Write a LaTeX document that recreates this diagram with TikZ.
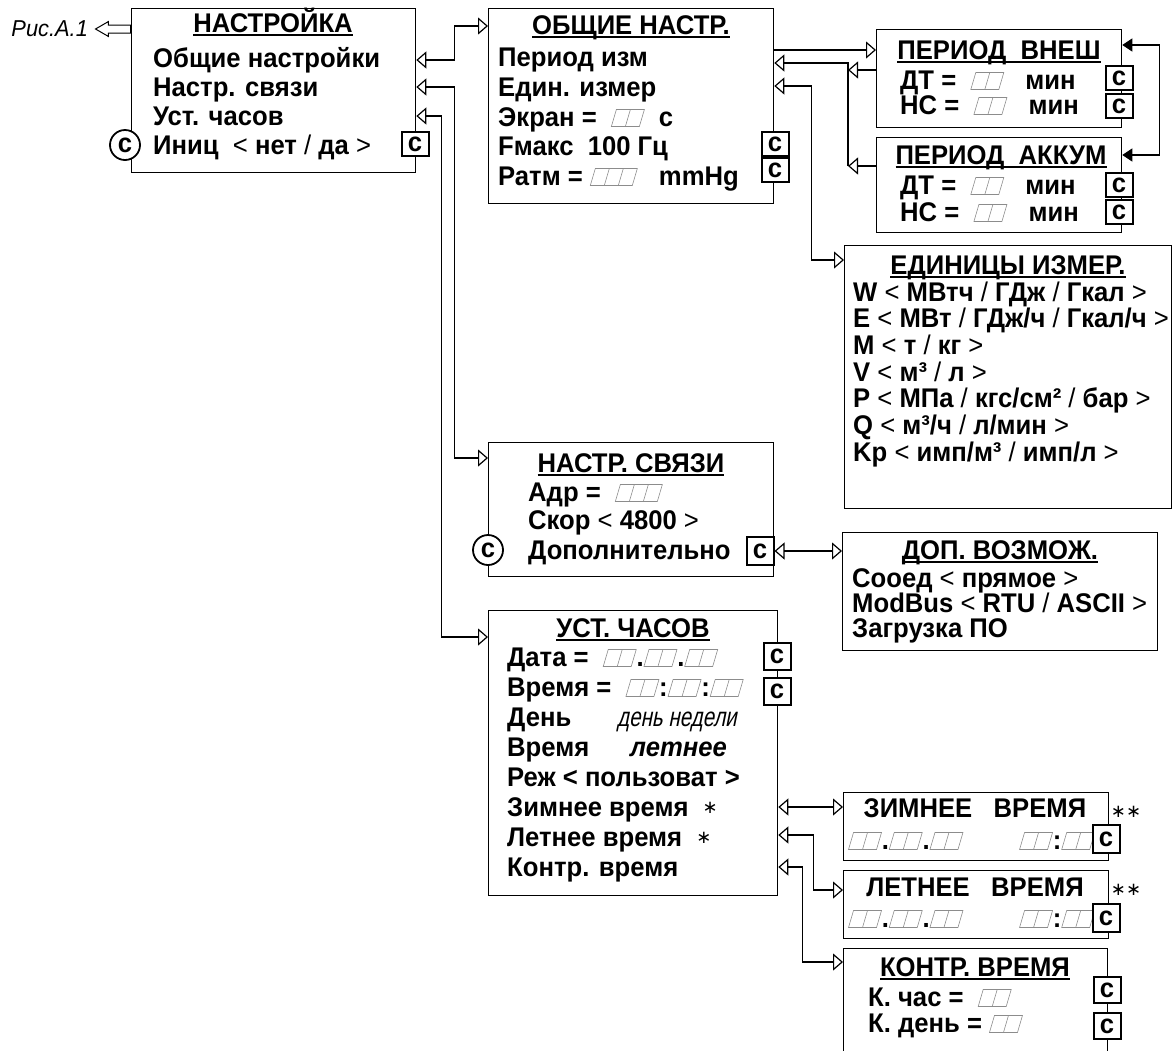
\documentclass[tikz,border=0pt]{standalone}
\usepackage{fontspec}
\setmainfont{Liberation Sans}[FakeStretch=0.95]
\newfontfamily\symfont{DejaVu Sans}
\newfontfamily\narrowfont{Liberation Sans}[FakeStretch=0.76,FakeSlant=0.2]
\usetikzlibrary{arrows.meta,positioning,shapes.arrows}
\newcommand{\menufont}{\fontsize{27}{32}\selectfont}
\newcommand{\rg}[1]{{\mdseries#1}}
\newcommand{\zv}{\raisebox{3pt}{\symfont\mdseries\fontsize{18}{20}\selectfont ∗}}
\newcommand{\ttl}[1]{\leavevmode\setbox0\hbox{#1}\rlap{\vrule width\wd0 height -1pt depth 3pt}\box0}
\newcommand{\dd}{\tikz[baseline=0pt,x=1pt,y=1pt]\draw[cellline] (0,0) -- (28,0) -- (33,17) -- (5,17) -- cycle (14,0) -- (19,17);}
\newcommand{\ddd}{\tikz[baseline=0pt,x=1pt,y=1pt]\draw[cellline] (0,0) -- (42,0) -- (47,17) -- (5,17) -- cycle (14,0) -- (19,17) (28,0) -- (33,17);}

\begin{document}
\begin{tikzpicture}[
  x=1pt,y=-1pt,
  menu/.style={draw,line width=1.3pt,anchor=north west,inner sep=0pt},
  head/.style={font=\menufont\bfseries,inner sep=0pt,text height=19pt,text depth=0pt},
  item/.style={font=\menufont\bfseries,anchor=west,inner sep=0pt,text height=19pt,text depth=0pt},
  ckey/.style={draw,line width=2pt,fill=white,minimum width=27pt,minimum height=24pt,inner sep=0pt,font=\menufont\bfseries},
  cround/.style={draw,circle,line width=1.8pt,fill=white,minimum size=30pt,inner sep=0pt,font=\menufont\bfseries},
  cellline/.style={line width=.6pt,draw=black!45},
  backarrow/.style={draw,single arrow,shape border rotate=180,line width=1pt,minimum height=35pt,minimum width=14pt,inner sep=3.5pt,single arrow head extend=3.5pt,single arrow tip angle=60},
  arrow/.style={-{Triangle[open,length=10pt,width=17pt]},line width=1.2pt},
  twoway/.style={{Triangle[open,length=10pt,width=17pt]}-{Triangle[open,length=10pt,width=17pt]},line width=1.2pt},
  link/.style={{Triangle[length=10pt,width=13pt]}-{Triangle[length=10pt,width=13pt]},line width=1.2pt}
]
\useasboundingbox (0,0) rectangle (1174,1050);

\node[menu,minimum width=284pt,minimum height=164pt] (nastr) at (131,8) {};
\node[menu,minimum width=285pt,minimum height=195pt] (obsch) at (488,8) {};
\node[menu,minimum width=245pt,minimum height=98pt] (vnesh) at (876,29) {};
\node[menu,minimum width=245pt,minimum height=95pt] (akkum) at (876,137) {};
\node[menu,minimum width=327pt,minimum height=263pt] (edin) at (844,245) {};
\node[menu,minimum width=285pt,minimum height=134pt] (svyaz) at (488,442) {};
\node[menu,minimum width=315pt,minimum height=118pt] (dopvz) at (842,532) {};
\node[menu,minimum width=289pt,minimum height=285pt] (chasy) at (488,610) {};
\node[menu,minimum width=265pt,minimum height=68pt] (zima) at (843,792) {};
\node[menu,minimum width=265pt,minimum height=68pt] (leto) at (843,870) {};
\node[menu,minimum width=264pt,minimum height=130pt] (kontr) at (843,948) {};

\node[backarrow,anchor=tail] (back) at (nastr.west |- 0,29) {};
\node[font=\fontsize{23}{26}\selectfont\itshape,left=3pt of back.tip] (ris) {Рис.А.1};

\node[head] (nastrT) at (273,23) {\ttl{НАСТРОЙКА}};
\node[item] (nastr1) at (153,58) {Общие настройки};
\node[item] (nastr2) at (153,87) {Настр. связи};
\node[item] (nastr3) at (153,116) {Уст. часов};
\node[item] (nastr4) at (153,145) {Иниц~~\rg{<} нет \rg{/} да \rg{>}};

\node[head] (obschT) at (631,25) {\ttl{ОБЩИЕ НАСТР.}};
\node[item] (obsch1) at (498,57) {Период изм};
\node[item] (obsch2) at (498,87) {Един. измер};
\node[item] (obsch3) at (498,117) {Экран =~~\dd~~с};
\node[item] (obsch4) at (498,146) {Fмакс~~100 Гц};
\node[item] (obsch5) at (498,176) {Ратм = \ddd~~~mmHg};

\node[head] (vneshT) at (999,50) {\ttl{ПЕРИОД~~ВНЕШ}};
\node[item] (vnesh1) at (900,80) {ДТ =~~\dd~~~мин};
\node[item] (vnesh2) at (900,105) {НС =~~\dd~~~мин};

\node[head] (akkumT) at (1001,155) {\ttl{ПЕРИОД~~АККУМ}};
\node[item] (akkum1) at (900,185) {ДТ =~~\dd~~~мин};
\node[item] (akkum2) at (900,212) {НС =~~\dd~~~мин};

\node[head] (edinT) at (1008,265) {\ttl{ЕДИНИЦЫ ИЗМЕР.}};
\node[item] (edin1) at (853,292) {W \rg{<} МВтч \rg{/} ГДж \rg{/} Гкал \rg{>}};
\node[item] (edin2) at (853,318) {E \rg{<} МВт \rg{/} ГДж/ч \rg{/} Гкал/ч \rg{>}};
\node[item] (edin3) at (853,345) {M \rg{<} т \rg{/} кг \rg{>}};
\node[item] (edin4) at (853,372) {V \rg{<} м³ \rg{/} л \rg{>}};
\node[item] (edin5) at (853,398) {P \rg{<} МПа \rg{/} кгс/см² \rg{/} бар \rg{>}};
\node[item] (edin6) at (853,425) {Q \rg{<} м³/ч \rg{/} л/мин \rg{>}};
\node[item] (edin7) at (853,452) {Kp \rg{<} имп/м³ \rg{/} имп/л \rg{>}};

\node[head] (svyazT) at (631,463) {\ttl{НАСТР. СВЯЗИ}};
\node[item] (svyaz1) at (528,492) {Адр =~~\ddd};
\node[item] (svyaz2) at (528,520) {Скор \rg{<} 4800 \rg{>}};
\node[item] (svyaz3) at (528,550) {Дополнительно};

\node[head] (dopvzT) at (1000,550) {\ttl{ДОП. ВОЗМОЖ.}};
\node[item] (dopvz1) at (852,578) {Сооед \rg{<} прямое \rg{>}};
\node[item] (dopvz2) at (852,603) {ModBus \rg{<} RTU \rg{/} ASCII \rg{>}};
\node[item] (dopvz3) at (852,628) {Загрузка ПО};

\node[head] (chasyT) at (633,628) {\ttl{УСТ. ЧАСОВ}};
\node[item] (chasy1) at (507,657) {Дата =~~\dd.\dd.\dd};
\node[item] (chasy2) at (507,687) {Время =~~\dd:\dd:\dd};
\node[item] (chasy3) at (507,717) {\makebox[110pt][l]{День}{\narrowfont\mdseries день недели}};
\node[item] (chasy4) at (507,747) {\makebox[123pt][l]{Время}\textit{летнее}};
\node[item] (chasy5) at (507,777) {Реж < пользоват >};
\node[item] (chasy6) at (507,807) {Зимнее время~~\zv};
\node[item] (chasy7) at (507,837) {Летнее время~~\zv};
\node[item] (chasy8) at (507,867) {Контр. время};

\node[head] (zimaT) at (975,808) {ЗИМНЕЕ~~~ВРЕМЯ};
\node[item] (zima1) at (848,840) {\dd.\dd.\dd\hspace{56pt}\dd:\dd};
\node[font=\fontsize{20}{24}\selectfont] (zimaS) at (1126,813) {\zv\zv};

\node[head] (letoT) at (975,887) {ЛЕТНЕЕ~~~ВРЕМЯ};
\node[item] (leto1) at (848,918) {\dd.\dd.\dd\hspace{56pt}\dd:\dd};
\node[font=\fontsize{20}{24}\selectfont] (letoS) at (1126,891) {\zv\zv};

\node[head] (kontrT) at (975,967) {\ttl{КОНТР. ВРЕМЯ}};
\node[item] (kontr1) at (868,997) {К. час =~~\dd};
\node[item] (kontr2) at (868,1023) {К. день = \dd};

\draw[twoway] (nastr.east |- 0,60) -- ++(38,0) |- (obsch.west |- 0,26);
\draw[twoway] (nastr.east |- 0,87) -- ++(38,0) |- (svyaz.west |- 0,458);
\draw[twoway] (nastr.east |- 0,116) -- ++(25,0) |- (chasy.west |- 0,637);
\draw[arrow] (obsch.east |- 0,50) -- (vnesh.west |- 0,50);
\coordinate (pbus) at (848,63);
\draw[arrow] (pbus |- 0,166) -- (pbus) -- (obsch.east |- pbus);
\draw[arrow] (vnesh.west |- 0,70) -- (pbus |- 0,70);
\draw[arrow] (akkum.west |- 0,166) -- (pbus |- 0,166);
\draw[twoway] (obsch.east |- 0,86) -- ++(37,0) |- (edin.west |- 0,260);
\draw[link] (vnesh.east |- 0,45) -- ++(37,0) |- (akkum.east |- 0,155);
\draw[twoway] (chasy.east |- 0,807) -- (zima.west |- 0,807);
\draw[twoway] (chasy.east |- 0,835) -- ++(35,0) |- (leto.west |- 0,890);
\draw[twoway] (chasy.east |- 0,867) -- ++(24,0) |- (kontr.west |- 0,962);

\node[ckey] (nastrC) at (415,144) {c};
\node[ckey] (obschC1) at (775,144) {c};
\node[ckey] (obschC2) at (775,170) {c};
\node[ckey] (vneshC1) at (1119,78) {c};
\node[ckey] (vneshC2) at (1119,106) {c};
\node[ckey] (akkumC1) at (1119,185) {c};
\node[ckey] (akkumC2) at (1119,212) {c};
\node[ckey,minimum height=28pt] (svyazC) at (760,551) {c};
\node[ckey,minimum height=27pt] (chasyC1) at (777,656) {c};
\node[ckey,minimum height=27pt] (chasyC2) at (777,691) {c};
\node[ckey,minimum height=28pt] (zimaC) at (1106,839) {c};
\node[ckey,minimum height=28pt] (letoC) at (1106,918) {c};
\node[ckey,minimum height=26pt] (kontrC1) at (1107,990) {c};
\node[ckey,minimum height=26pt] (kontrC2) at (1107,1026) {c};
\node[cround] (nastrR) at (125,145) {c};
\node[cround] (svyazR) at (488,550) {c};

\draw[twoway] (svyazC.east) -- (dopvz.west |- svyazC);
\end{tikzpicture}
\end{document}
